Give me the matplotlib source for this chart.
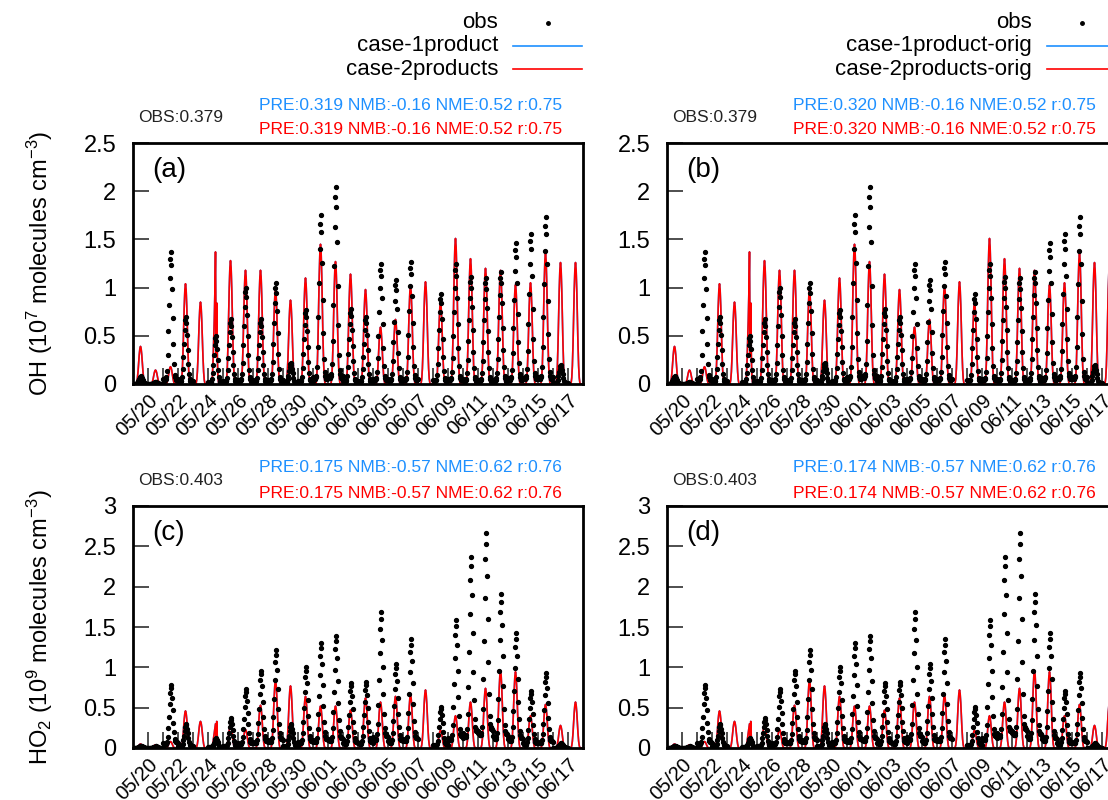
import numpy as np
import matplotlib
matplotlib.use('Agg')
import matplotlib.pyplot as plt
from matplotlib.lines import Line2D
from matplotlib.ticker import FixedLocator, FixedFormatter, FormatStrFormatter

plt.rcParams['font.family'] = ['Liberation Sans', 'DejaVu Sans']
plt.rcParams['mathtext.fontset'] = 'custom'
plt.rcParams['mathtext.rm'] = 'Liberation Sans'
plt.rcParams['mathtext.it'] = 'Liberation Sans:italic'
plt.rcParams['mathtext.bf'] = 'Liberation Sans:bold'

# ---------------- data (day 0 = 05/19) ----------------
XTICK_LABELS = ['05/20', '05/22', '05/24', '05/26', '05/28', '05/30', '06/01',
                '06/03', '06/05', '06/07', '06/09', '06/11', '06/13', '06/15', '06/17']

# daily peak of the simulated OH (10^7 molec cm-3)
OH_MODEL_PEAK = [0.39, 0.145, 0.18, 1.04, 0.85, 1.37, 1.28, 1.18, 1.18, 0.98,
                 0.87, 1.10, 1.45, 1.27, 1.14, 0.98, 0.59, 0.67, 1.02, 1.06,
                 0.85, 1.51, 1.30, 1.20, 1.18, 1.03, 1.05, 1.36, 1.26, 1.26]
# daily peak of observed OH (nan = no measurement)
OH_OBS_PEAK = [0.08, 0.02, 1.37, 0.70, np.nan, 0.50, 0.67, 1.00, 0.67, 1.05,
               0.22, 0.77, 1.75, 2.04, 0.78, 0.70, 1.24, 1.08, 1.27, np.nan,
               0.93, 1.24, 1.11, 1.10, 1.16, 1.46, 1.56, 1.73, 0.20, np.nan]
# daily peak of the simulated HO2 (10^9 molec cm-3)
HO2_MODEL_PEAK = [0.05, 0.04, 0.08, 0.46, 0.33, 0.33, 0.285, 0.23, 0.53, 0.84,
                  0.77, 0.64, 0.52, 0.52, 0.47, 0.62, 0.57, 0.64, 0.66, 0.72,
                  0.22, 0.40, 0.57, 0.74, 0.96, 0.945, 0.40, 0.54, 0.28, 0.57]
# daily peak of observed HO2
HO2_OBS_PEAK = [0.03, 0.02, 0.78, 0.30, np.nan, 0.12, 0.37, 0.73, 0.96, 1.21,
                0.30, 1.00, 1.30, 1.39, 0.81, 0.82, 1.68, 1.04, 1.35, np.nan,
                0.51, 1.59, 2.37, 2.66, 1.91, 1.42, 0.71, 0.93, 0.06, np.nan]

# normalised hourly diurnal shapes (hour 0..23)
MODEL_PROFILE = [0, 0, 0, 0, 0, 0.01, 0.05, 0.15, 0.32, 0.55, 0.78, 0.94,
                 1.0, 0.94, 0.78, 0.55, 0.32, 0.15, 0.05, 0.01, 0, 0, 0, 0]
OH_OBS_PROFILE = [0.04, 0.03, 0.03, 0.03, 0.04, 0.05, 0.10, 0.22, 0.40, 0.60, 0.80, 0.95,
                  1.0, 0.90, 0.72, 0.50, 0.30, 0.15, 0.07, 0.05, 0.04, 0.03, 0.03, 0.04]
HO2_OBS_PROFILE = [0.08, 0.07, 0.06, 0.06, 0.06, 0.07, 0.10, 0.18, 0.32, 0.50, 0.70, 0.88,
                   1.0, 0.95, 0.80, 0.60, 0.40, 0.25, 0.15, 0.11, 0.10, 0.09, 0.09, 0.08]
# 05/24 has an irregular double spike in the model
OH_MODEL_0524 = [0, 0, 0, 0, 0, 0, 0.02, 0.08, 0.22, 0.42, 0.65, 0.95,
                 1.37, 0.30, 0.84, 0.25, 0.06, 0.01, 0, 0, 0, 0, 0, 0]
HO2_MODEL_0524 = [0, 0, 0, 0, 0, 0, 0.01, 0.03, 0.07, 0.13, 0.20, 0.26,
                  0.30, 0.12, 0.33, 0.10, 0.03, 0.01, 0, 0, 0, 0, 0, 0]
DAY_0524 = 5

STATS = {
    'a': ('OBS:0.379', 'PRE:0.319 NMB:-0.16 NME:0.52 r:0.75', 'PRE:0.319 NMB:-0.16 NME:0.52 r:0.75'),
    'b': ('OBS:0.379', 'PRE:0.320 NMB:-0.16 NME:0.52 r:0.75', 'PRE:0.320 NMB:-0.16 NME:0.52 r:0.75'),
    'c': ('OBS:0.403', 'PRE:0.175 NMB:-0.57 NME:0.62 r:0.76', 'PRE:0.175 NMB:-0.57 NME:0.62 r:0.76'),
    'd': ('OBS:0.403', 'PRE:0.174 NMB:-0.57 NME:0.62 r:0.76', 'PRE:0.174 NMB:-0.57 NME:0.62 r:0.76'),
}
LEGENDS = [('obs', 'case-1product', 'case-2products'),
           ('obs', 'case-1product-orig', 'case-2products-orig')]

# ---------------- build hourly series ----------------
def model_series(peaks, override):
    t, v = [], []
    for d, p in enumerate(peaks):
        prof = override if d == DAY_0524 else [p * s for s in MODEL_PROFILE]
        for h in range(24):
            t.append(d + h / 24.0)
            v.append(prof[h])
    t.append(len(peaks))
    v.append(0.0)
    return np.array(t), np.array(v)


def obs_series(peaks, profile):
    t, v = [], []
    for d, p in enumerate(peaks):
        if np.isnan(p):
            continue
        for h in range(24):
            t.append(d + (h + 0.5) / 24.0)
            v.append(p * profile[h])
    return np.array(t), np.array(v)


BLUE = '#1e90ff'
RED = '#ff0000'
W, H = 1108, 800
fig = plt.figure(figsize=(W / 100, H / 100), dpi=100)


def px(x, y):
    return x / W, 1 - y / H


panels = [
    ('a', 133, 143, 384, 2.5, OH_MODEL_PEAK, OH_OBS_PEAK, OH_OBS_PROFILE, OH_MODEL_0524,
     'OH (10$^{7}$ molecules cm$^{-3}$)'),
    ('b', 667, 143, 384, 2.5, OH_MODEL_PEAK, OH_OBS_PEAK, OH_OBS_PROFILE, OH_MODEL_0524, None),
    ('c', 133, 506, 748, 3.0, HO2_MODEL_PEAK, HO2_OBS_PEAK, HO2_OBS_PROFILE, HO2_MODEL_0524,
     'HO$_{2}$ (10$^{9}$ molecules cm$^{-3}$)'),
    ('d', 667, 506, 748, 3.0, HO2_MODEL_PEAK, HO2_OBS_PEAK, HO2_OBS_PROFILE, HO2_MODEL_0524, None),
]

for key, left, top, bottom, ymax, mpk, opk, oprof, ovr, ylab in panels:
    ax = fig.add_axes([left / W, 1 - bottom / H, 450 / W, (bottom - top) / H])
    tm, vm = model_series(mpk, ovr)
    to, vo = obs_series(opk, oprof)
    ax.plot(tm, vm, color=BLUE, lw=1.2, zorder=2)
    ax.plot(tm, vm, color=RED, lw=1.2, zorder=3)
    ax.plot(to, vo, linestyle='none', marker='o', ms=2.8, color='black', zorder=4)
    ax.set_xlim(0, 30)
    ax.set_ylim(0, ymax)
    ax.xaxis.set_major_locator(FixedLocator(list(range(1, 30))))
    labels = []
    for i in range(1, 30):
        labels.append(XTICK_LABELS[(i - 1) // 2] if (i - 1) % 2 == 0 else '')
    ax.xaxis.set_major_formatter(FixedFormatter(labels))
    ax.yaxis.set_major_locator(FixedLocator(list(np.arange(0, ymax + 0.01, 0.5))))
    ax.yaxis.set_major_formatter(FormatStrFormatter('%g'))
    ax.tick_params(axis='both', direction='in', length=11.5, width=1.3, color='0.25',
                   top=False, right=False)
    ax.tick_params(axis='y', labelsize=17, pad=12)
    ax.tick_params(axis='x', labelsize=14.5, pad=5)
    for lab in ax.get_xticklabels():
        lab.set_rotation(45)
        lab.set_ha('right')
        lab.set_va('top')
        lab.set_rotation_mode('anchor')
    for s in ax.spines.values():
        s.set_linewidth(2.0)
        s.set_zorder(5)
    ax.text(0.042, 0.888, '(%s)' % key, transform=ax.transAxes, fontsize=20,
            ha='left', va='center')
    obs_t, pre1, pre2 = STATS[key]
    fig.text(*px(left + 5, top - 25), obs_t, fontsize=12.5, color='#222222',
             ha='left', va='center')
    fig.text(*px(left + 126, top - 38), pre1, fontsize=12.5, color=BLUE,
             ha='left', va='center')
    fig.text(*px(left + 126, top - 13), pre2, fontsize=12.5, color=RED,
             ha='left', va='center')
    if ylab:
        fig.text(40 / W, 1 - (top + bottom) / 2 / H, ylab, rotation=90, fontsize=17,
                 ha='center', va='center')

# legends
for i, (l0, l1, l2) in enumerate(LEGENDS):
    off = 534 * i
    rows = [23, 46, 69]
    for lab, y in zip((l0, l1, l2), rows):
        fig.text(*px(498 + off, y), lab, fontsize=16, ha='right', va='center')
    x0, y0 = px(548 + off, rows[0])
    fig.add_artist(Line2D([x0], [y0], marker='o', ms=2.5, color='black',
                          linestyle='none', transform=fig.transFigure))
    for col, y in ((BLUE, rows[1]), (RED, rows[2])):
        xa, ya = px(513 + off, y)
        xb, _ = px(582 + off, y)
        fig.add_artist(Line2D([xa, xb], [ya, ya], color=col, lw=1.2,
                              transform=fig.transFigure))

fig.savefig('out.png', dpi=100)
